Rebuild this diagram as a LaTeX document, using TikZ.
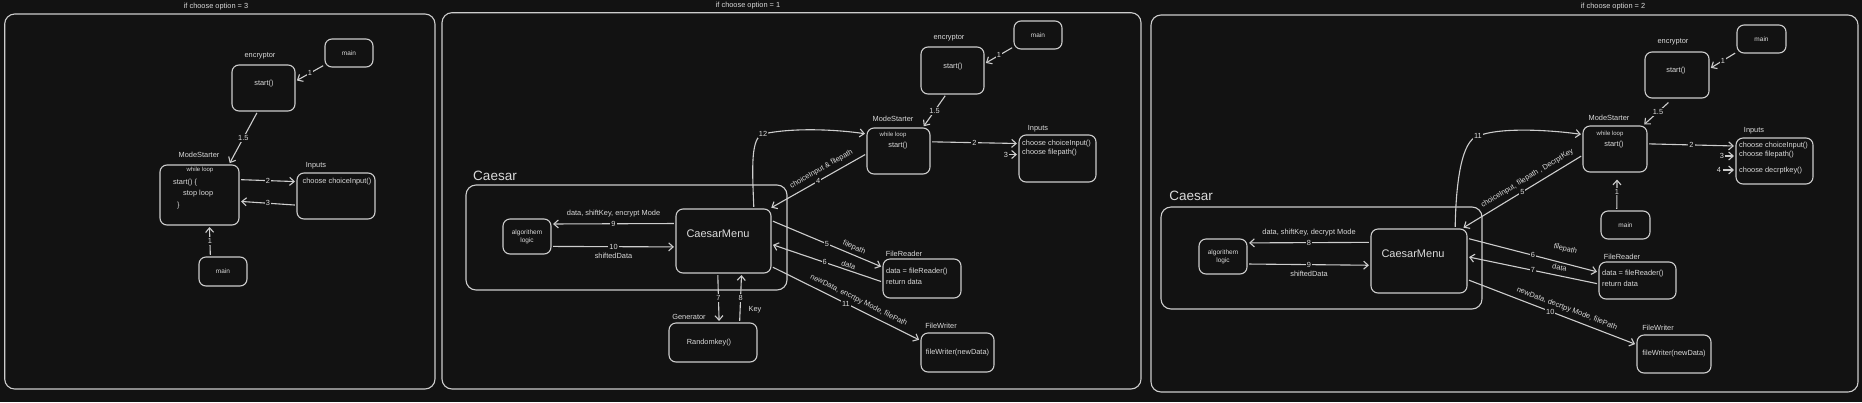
\documentclass[tikz,border=0pt]{standalone}
\usepackage{fontspec}
\setmainfont{Liberation Sans}
\usetikzlibrary{arrows.meta,calc}
\definecolor{bg}{HTML}{121212}
\definecolor{fg}{HTML}{CDCDCD}
\definecolor{tx}{HTML}{DADADA}
\newcommand\fsm{\fontsize{7.4pt}{9pt}\selectfont}
\newcommand\fmn{\fontsize{6.5pt}{8pt}\selectfont}
\newcommand\fxs{\fontsize{6pt}{7pt}\selectfont}
\newcommand\fcm{\fontsize{11pt}{13pt}\selectfont}
\newcommand\fcs{\fontsize{13.5pt}{15pt}\selectfont}
\tikzset{
  frame/.style={draw=fg, line width=1.1pt, rounded corners=10pt},
  box/.style={draw=fg, line width=1.1pt, rounded corners=7pt, inner sep=0pt, text=tx, font=\fsm, align=center},
  arr/.style={draw=fg, line width=1.1pt, -{Straight Barb[length=4.5pt,width=8pt,line width=1.1pt]}, shorten >=1.5pt, shorten <=1.5pt},
  lbl/.style={fill=bg, text=tx, font=\fsm, inner sep=1pt},
  txt/.style={text=tx, font=\fsm, inner sep=0pt},
  stxt/.style={text=tx, font=\fsm, inner sep=0pt, sloped},
}
\begin{document}
\begin{tikzpicture}[x=1pt,y=-1pt]
\useasboundingbox (0,0) rectangle (1862,402);
\fill[bg] (0,0) rectangle (1862,402);

% ================= Panel 1 : option 3 =================
\draw[frame] (4.7,14) rectangle (435,389);
\node[txt] (t1) at (216,7) {if choose option = 3};
\node[box, minimum width=63pt, minimum height=46pt] (enc1) at (263.5,88) {};
\node[txt] (enc1l) at (260,56) {encryptor};
\node[txt] (enc1t) at (264,84) {start()};
\node[box, font=\fmn, minimum width=48pt, minimum height=28pt] (main1a) at (349,53) {main};
\node[box, minimum width=79pt, minimum height=60pt] (ms1) at (199.5,195) {};
\node[txt] (ms1l) at (199,155) {ModeStarter};
\node[txt, font=\fxs] (ms1w) at (200,170) {while loop};
\node[txt, anchor=west] (ms1a) at (173,183) {start() \{};
\node[txt, anchor=west] (ms1b) at (183,194) {stop loop};
\node[txt, anchor=west] (ms1c) at (177,206) {\}};
\node[box, minimum width=78pt, minimum height=46pt] (in1) at (336,196) {};
\node[txt] (in1l) at (316,166) {Inputs};
\node[txt] (in1a) at (337,182) {choose choiceInput()};
\node[box, font=\fmn, minimum width=48pt, minimum height=29pt] (main1b) at (223,271.5) {main};

\draw[arr] (main1a.206) -- node[lbl]{1} (enc1.12);
\draw[arr] (enc1.256) -- node[lbl]{1.5} (ms1.46);
\draw[arr] (ms1.21) -- node[lbl]{2} (in1.160);
\draw[arr] (in1.193) -- node[lbl]{3} (ms1.351);
\draw[arr] (main1b.130) -- node[lbl]{1} (ms1.288);

% ================= Panel 2 : option 1 =================
\draw[frame] (442,12.7) rectangle (1141,389);
\node[txt] (t2) at (748,6) {if choose option = 1};
\draw[frame] (466,185) rectangle (787,290);
\node[txt, font=\fcs] (cz2) at (495,176) {Caesar};
\node[box, font=\fmn, minimum width=48pt, minimum height=35pt] (alg2) at (527,236.5) {algorithem\\logic};
\node[box, minimum width=95pt, minimum height=64pt] (cm2) at (723.5,241) {};
\node[txt, font=\fcm] (cm2t) at (718,234) {CaesarMenu};
\node[box, minimum width=88pt, minimum height=39pt] (gen2) at (713,342.5) {};
\node[txt] (gen2l) at (689,317) {Generator};
\node[txt] (gen2t) at (709,343) {Randomkey()};
\node[box, font=\fmn, minimum width=48pt, minimum height=28pt] (main2) at (1038,35) {main};
\node[box, minimum width=63pt, minimum height=47pt] (enc2) at (952.5,70.5) {};
\node[txt] (enc2l) at (949,38) {encryptor};
\node[txt] (enc2t) at (953,67) {start()};
\node[box, minimum width=63pt, minimum height=46pt] (ms2) at (898.5,151) {};
\node[txt] (ms2l) at (893,119) {ModeStarter};
\node[txt, font=\fxs] (ms2w) at (893,135) {while loop};
\node[txt] (ms2t) at (898,146) {start()};
\node[box, minimum width=77pt, minimum height=47pt] (in2) at (1057.5,158.5) {};
\node[txt] (in2l) at (1038,129) {Inputs};
\node[txt, anchor=west] (in2a) at (1022,144) {choose choiceInput()};
\node[txt, anchor=west] (in2b) at (1022,153) {choose filepath()};
\node[box, minimum width=78pt, minimum height=39pt] (fr2) at (922,278.5) {};
\node[txt] (fr2l) at (904,254) {FileReader};
\node[txt, anchor=west] (fr2a) at (886,272) {data = fileReader()};
\node[txt, anchor=west] (fr2b) at (886,282) {return data};
\node[box, minimum width=73pt, minimum height=39pt] (fw2) at (957.5,352.5) {fileWriter(newData)};
\node[txt] (fw2l) at (941,326) {FileWriter};

\draw[arr] (main2.206) -- node[lbl]{1} (enc2.12);
\draw[arr] (enc2.255) -- node[lbl]{1.5} (ms2.44);
\draw[arr] (ms2.16) -- node[lbl]{2} (in2.159);
\node[txt] (n3in2) at (1006,154.5) {3};
\draw[arr, shorten <=0.5pt] (n3in2.east) -- (n3in2.east -| in2.west);
\draw[arr] (cm2.47) .. controls (752,165) and (751,138) .. (763,134) node[lbl]{12}
           .. controls (795,127) and (840,130) .. (ms2.152);
\draw[arr] (ms2.185) -- node[lbl, pos=0.5]{4}
  node[stxt, pos=0.42, above=5pt]{choiceInput \& filepath} (cm2.35);
\draw[arr] (cm2.23) -- node[lbl]{5} node[stxt, pos=0.72, above=3pt]{filepath} (fr2.164);
\draw[arr] (fr2.185) -- node[lbl, pos=0.52]{6} node[stxt, pos=0.32, above=2pt]{data} (cm2.356);
\draw[arr] (cm2.332) -- node[lbl]{11}
  node[stxt, pos=0.56, above=4.5pt]{newData, encrtpy Mode, filePath} (fw2.162);
\draw[arr] (cm2.160) -- node[lbl]{9} node[txt, pos=0.5, above=6pt]{data, shiftKey, encrypt Mode} (alg2.27);
\draw[arr] (alg2.338) -- node[lbl]{10} node[txt, pos=0.5, below=6pt]{shiftedData} (cm2.187);
\draw[arr] (cm2.260) -- node[lbl]{7} (gen2.73);
\draw[arr] (gen2.37) -- node[lbl]{8} node[txt, pos=0.27, right=8pt]{Key} (cm2.299);

% ================= Panel 3 : option 2 =================
\draw[frame] (1151,15) rectangle (1858,392);
\node[txt] (t3) at (1613,7) {if choose option = 2};
\draw[frame] (1161,207) rectangle (1482,309);
\node[txt, font=\fcs] (cz3) at (1191,196) {Caesar};
\node[box, font=\fmn, minimum width=48pt, minimum height=35pt] (alg3) at (1223,256.5) {algorithem\\logic};
\node[box, minimum width=96pt, minimum height=64pt] (cm3) at (1419,261) {};
\node[txt, font=\fcm] (cm3t) at (1413,254) {CaesarMenu};
\node[box, font=\fmn, minimum width=49pt, minimum height=28pt] (main3a) at (1761.5,39) {main};
\node[box, minimum width=64pt, minimum height=46pt] (enc3) at (1677,75) {};
\node[txt] (enc3l) at (1673,42) {encryptor};
\node[txt] (enc3t) at (1676,71) {start()};
\node[box, minimum width=64pt, minimum height=46pt] (ms3) at (1615,149) {};
\node[txt] (ms3l) at (1609,118) {ModeStarter};
\node[txt, font=\fxs] (ms3w) at (1610,134) {while loop};
\node[txt] (ms3t) at (1614,145) {start()};
\node[box, minimum width=77pt, minimum height=46pt] (in3) at (1774.5,161) {};
\node[txt] (in3l) at (1754,131) {Inputs};
\node[txt, anchor=west] (in3a) at (1739,146) {choose choiceInput()};
\node[txt, anchor=west] (in3b) at (1739,155) {choose filepath()};
\node[txt, anchor=west] (in3c) at (1739,171) {choose decrptkey()};
\node[box, font=\fmn, minimum width=49pt, minimum height=28pt] (main3b) at (1625.5,225) {main};
\node[box, minimum width=77pt, minimum height=37pt] (fr3) at (1637.5,280.5) {};
\node[txt] (fr3l) at (1622,257) {FileReader};
\node[txt, anchor=west] (fr3a) at (1602,274) {data = fileReader()};
\node[txt, anchor=west] (fr3b) at (1602,284) {return data};
\node[box, minimum width=74pt, minimum height=38pt] (fw3) at (1674,354) {fileWriter(newData)};
\node[txt] (fw3l) at (1658,328) {FileWriter};

\draw[arr] (main3a.208) -- node[lbl]{1} (enc3.11);
\draw[arr, shorten <=6pt] (enc3.260) -- node[lbl]{1.5} (ms3.40);
\draw[arr] (ms3.9) -- node[lbl]{2} (in3.159);
\node[txt] (n3in3) at (1722,156) {3};
\draw[arr, shorten <=0.5pt] (n3in3.east) -- (n3in3.east -| in3.west);
\node[txt] (n4in3) at (1719,170) {4};
\draw[arr, shorten <=2pt] (n4in3.east) -- (n4in3.east -| in3.west);
\draw[arr, shorten >=7pt] (main3b.121) -- node[lbl]{1} (ms3.275);
\draw[arr] (cm3.42) .. controls (1456,180) and (1462,140) .. (1478,136) node[lbl]{11}
           .. controls (1500,127) and (1550,130) .. (ms3.156);
\draw[arr] (ms3.191) -- node[lbl]{5}
  node[stxt, pos=0.42, above=5pt]{choiceInput, filepath , DecrptKey} (cm3.37);
\draw[arr] (cm3.25) -- node[lbl]{6} node[stxt, pos=0.72, above=10pt]{filepath} (fr3.168);
\draw[arr] (fr3.185) -- node[lbl]{7} node[stxt, pos=0.31, above=5pt]{data} (cm3.5);
\draw[arr] (cm3.339) -- node[lbl, pos=0.49]{10}
  node[stxt, pos=0.57, above=4.5pt]{newData, decrtpy Mode, filePath} (fw3.166);
\draw[arr] (cm3.159) -- node[lbl]{8} node[txt, pos=0.5, above=6pt]{data, shiftKey, decrypt Mode} (alg3.29);
\draw[arr] (alg3.343) -- node[lbl]{9} node[txt, pos=0.5, below=6pt]{shiftedData} (cm3.185);
\end{tikzpicture}
\end{document}
